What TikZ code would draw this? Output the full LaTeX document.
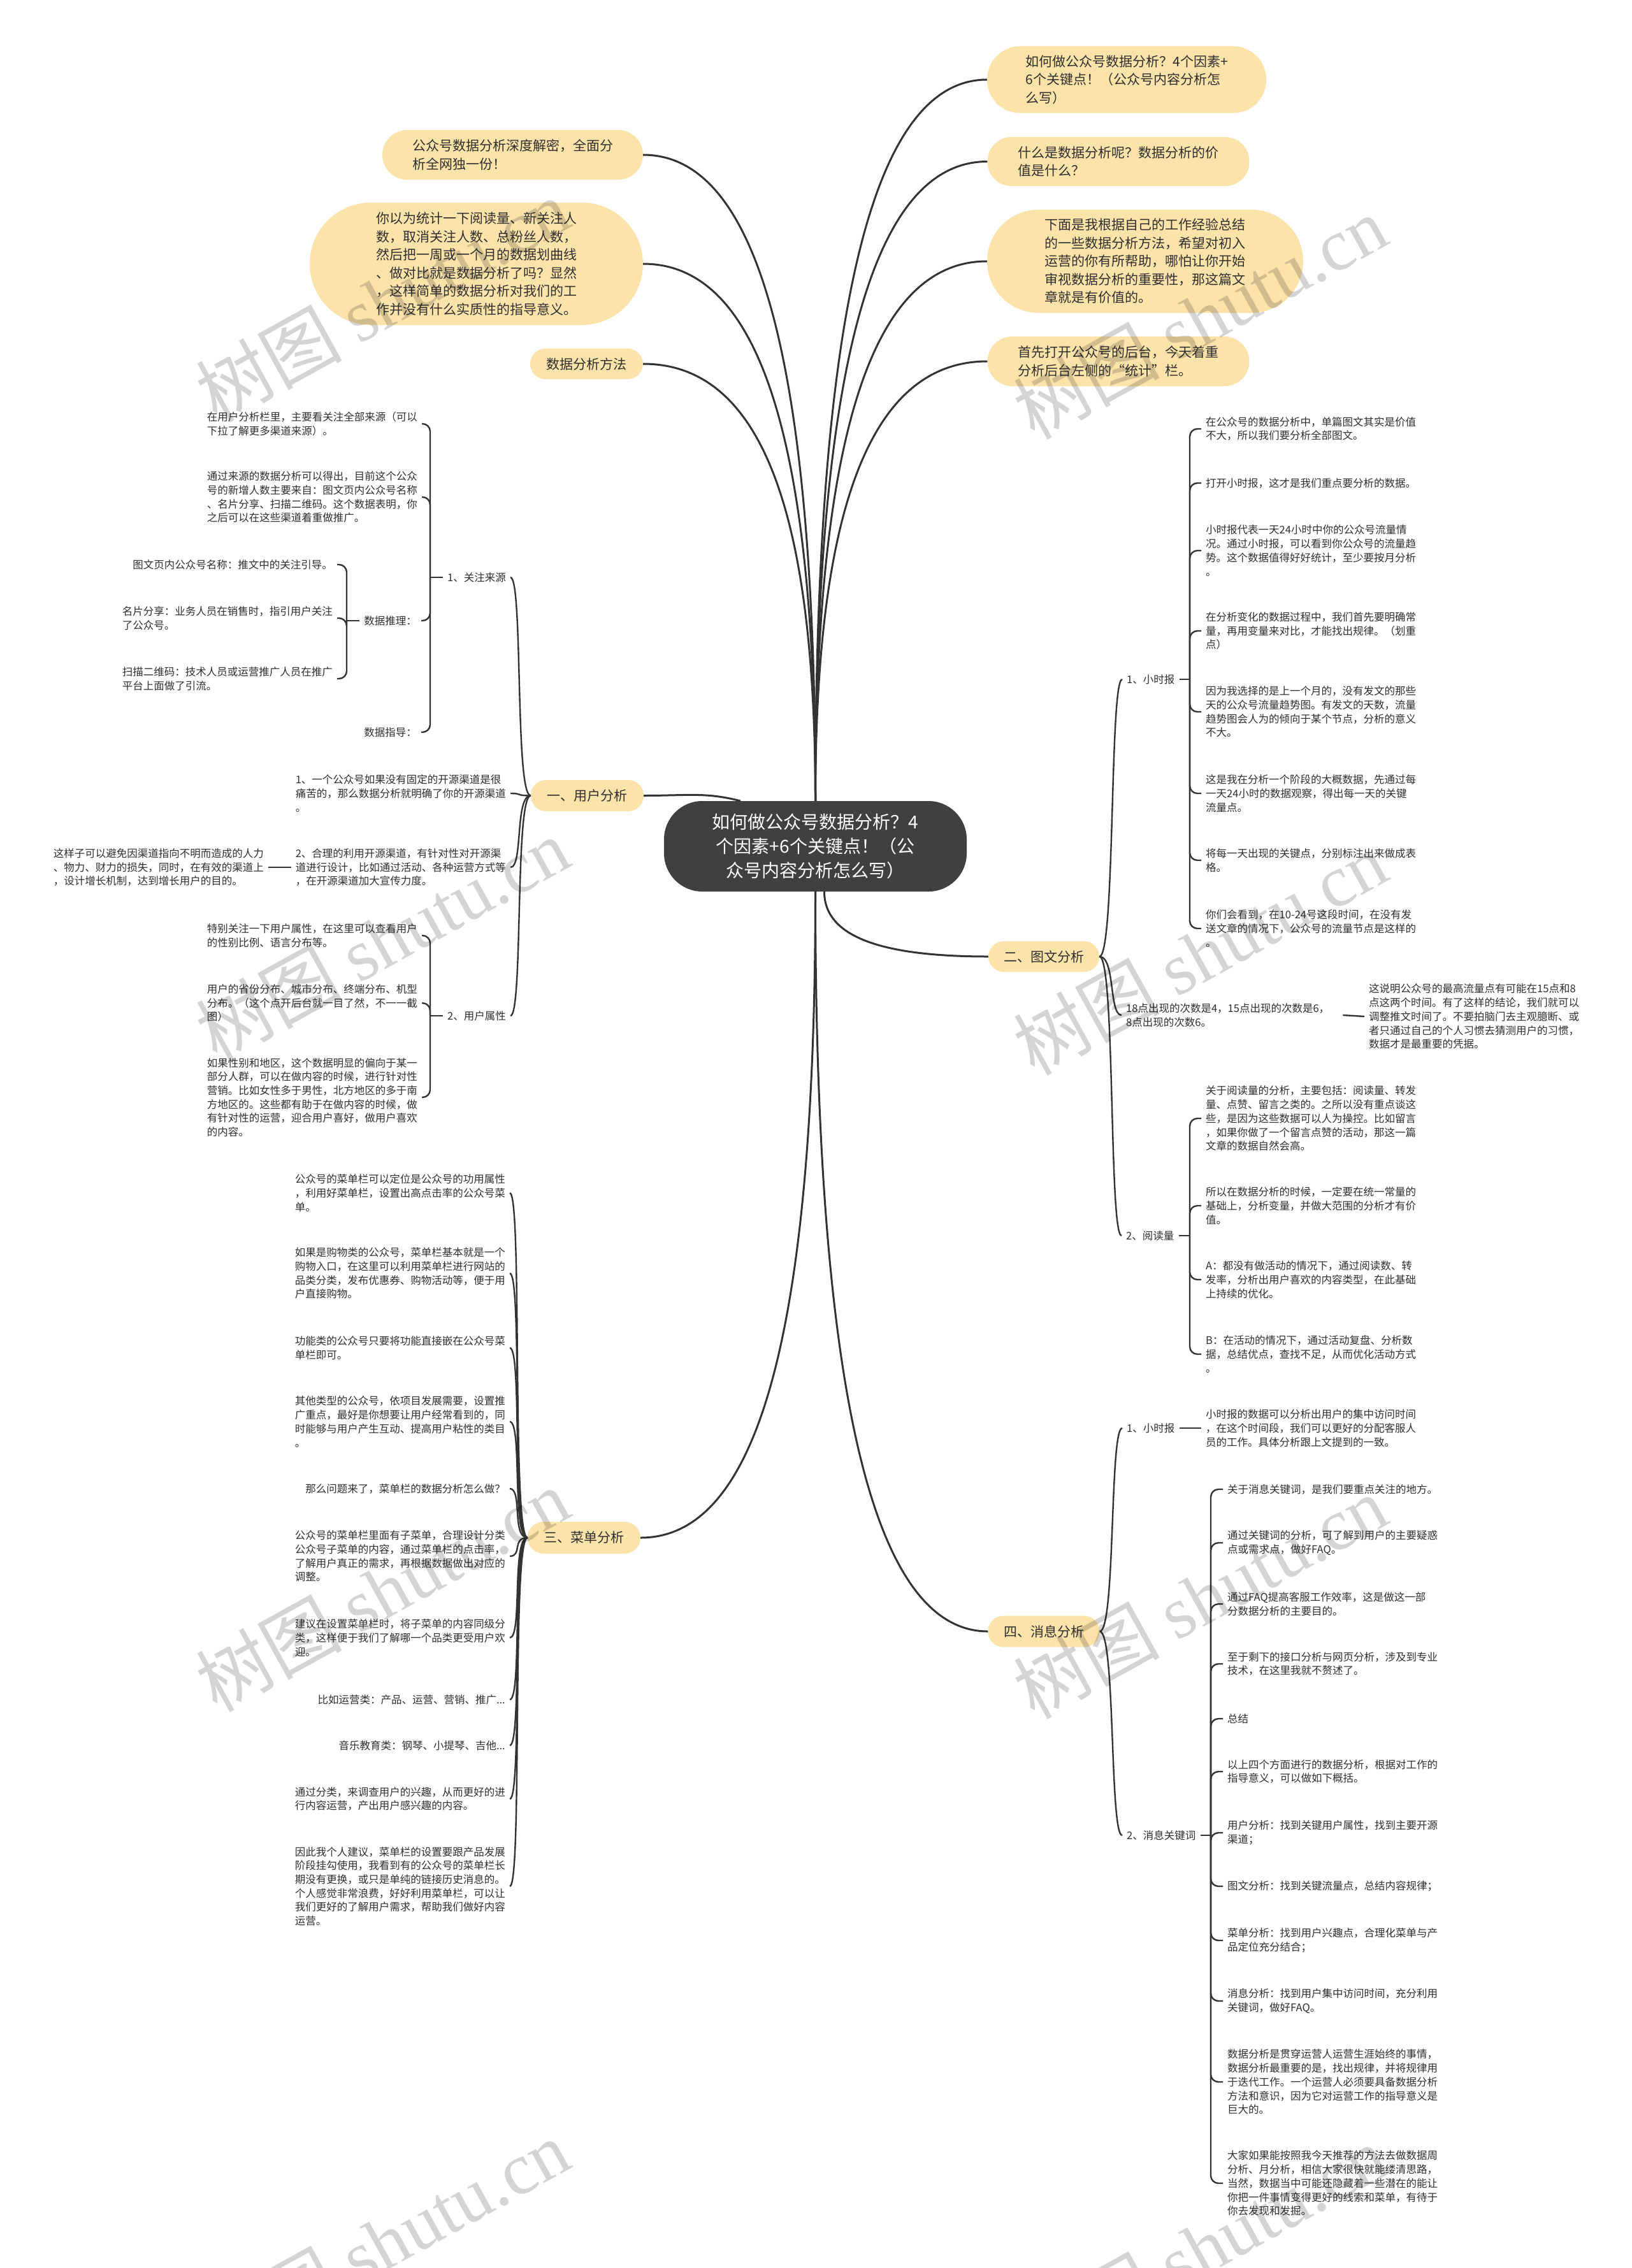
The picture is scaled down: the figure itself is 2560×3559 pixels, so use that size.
\documentclass[tikz,border=0pt]{standalone}
\usepackage{fontspec}
\setmainfont{Noto Sans CJK SC}
\newfontfamily\wmserif{Liberation Serif}
\definecolor{yel}{HTML}{FCE3AA}
\definecolor{dark}{HTML}{404040}
\definecolor{linec}{HTML}{333333}
\definecolor{txt}{HTML}{2F2F2F}
\newcommand\leaffont{\fontsize{16.5pt}{21.7pt}\selectfont}
\newcommand\topicfont{\fontsize{21pt}{28.5pt}\selectfont}
\newcommand\centerfont{\fontsize{28pt}{38pt}\selectfont}
\begin{document}
\begin{tikzpicture}[x=1pt,y=1pt,
 leaf/.style={font=\leaffont, align=left, inner xsep=7pt, inner ysep=0pt, text=txt},
 ll/.style={leaf, anchor=east},
 rl/.style={leaf, anchor=west},
 topic/.style={rectangle, fill=yel, text=txt, font=\topicfont, align=left, inner sep=0pt},
 mainlink/.style={draw=linec, line width=3pt},
 sublink/.style={draw=linec, line width=2.4pt},
 brk/.style={sublink, rounded corners=12pt},
 wm/.style={rotate=29, anchor=base west, text=black, opacity=0.17, font=\fontsize{115pt}{115pt}\selectfont, inner sep=0pt}
]
\fill[white] (0,0) rectangle (2560,-3559);
\useasboundingbox (0,0) rectangle (2560,-3559);

% ---------- centre ----------
\node[rectangle, rounded corners=60pt, fill=dark, text=white, font=\centerfont, align=center,
  minimum width=475pt, minimum height=142pt, inner sep=0pt] (c) at (1279.5,-1328)
  {如何做公众号数据分析？4\\个因素+6个关键点！（公\\众号内容分析怎么写）};

% ---------- top topics ----------
\node[topic, minimum width=438pt, minimum height=105pt, rounded corners=52pt] (R1) at (1768,-125)
  {如何做公众号数据分析？4个因素+\\6个关键点！（公众号内容分析怎\\么写）};
\node[topic, minimum width=411pt, minimum height=77pt, rounded corners=38pt] (R2) at (1755,-253.5)
  {什么是数据分析呢？数据分析的价\\值是什么？};
\node[topic, minimum width=496pt, minimum height=162pt, rounded corners=81pt] (R3) at (1797,-410)
  {下面是我根据自己的工作经验总结\\的一些数据分析方法，希望对初入\\运营的你有所帮助，哪怕让你开始\\审视数据分析的重要性，那这篇文\\章就是有价值的。};
\node[topic, minimum width=411pt, minimum height=78pt, rounded corners=39pt] (R4) at (1755,-567)
  {首先打开公众号的后台，今天着重\\分析后台左侧的“统计”栏。};
\node[topic, minimum width=409pt, minimum height=78pt, rounded corners=39pt] (L1) at (804.5,-243)
  {公众号数据分析深度解密，全面分\\析全网独一份！};
\node[topic, minimum width=523pt, minimum height=192pt, rounded corners=96pt] (L2) at (747.5,-414)
  {你以为统计一下阅读量、新关注人\\数，取消关注人数、总粉丝人数，\\然后把一周或一个月的数据划曲线\\、做对比就是数据分析了吗？显然\\，这样简单的数据分析对我们的工\\作并没有什么实质性的指导意义。};
\node[topic, minimum width=177pt, minimum height=48pt, rounded corners=24pt] (L3) at (920.5,-571) {数据分析方法};

% ---------- branches ----------
\node[topic, minimum width=177pt, minimum height=49pt, rounded corners=24pt] (B1) at (921.5,-1248.5) {一、用户分析};
\node[topic, minimum width=174pt, minimum height=48pt, rounded corners=24pt] (B2) at (1638,-1501) {二、图文分析};
\node[topic, minimum width=177pt, minimum height=50pt, rounded corners=25pt] (B3) at (916.5,-2413) {三、菜单分析};
\node[topic, minimum width=175pt, minimum height=49pt, rounded corners=24pt] (B4) at (1638,-2560) {四、消息分析};

% ---------- user analysis ----------
\node[ll] (gz) at (801,-906) {1、关注来源};
\node[ll] (a1) at (662,-665) {在用户分析栏里，主要看关注全部来源（可以\\下拉了解更多渠道来源）。};
\node[ll] (a2) at (662,-780) {通过来源的数据分析可以得出，目前这个公众\\号的新增人数主要来自：图文页内公众号名称\\、名片分享、扫描二维码。这个数据表明，你\\之后可以在这些渠道着重做推广。};
\node[ll] (tl) at (661,-974) {数据推理：};
\node[ll] (zd) at (661,-1149) {数据指导：};
\node[ll] (t1) at (529,-886) {图文页内公众号名称：推文中的关注引导。};
\node[ll] (t2) at (529,-970) {名片分享：业务人员在销售时，指引用户关注\\了公众号。};
\node[ll] (t3) at (529,-1065) {扫描二维码：技术人员或运营推广人员在推广\\平台上面做了引流。};
\node[ll] (i1) at (801,-1245) {1、一个公众号如果没有固定的开源渠道是很\\痛苦的，那么数据分析就明确了你的开源渠道\\。};
\node[ll] (i2) at (801,-1361) {2、合理的利用开源渠道，有针对性对开源渠\\道进行设计，比如通过活动、各种运营方式等\\，在开源渠道加大宣传力度。};
\node[ll] (i2c) at (421,-1361) {这样子可以避免因渠道指向不明而造成的人力\\、物力、财力的损失，同时，在有效的渠道上\\，设计增长机制，达到增长用户的目的。};
\node[ll] (yh) at (801,-1594) {2、用户属性};
\node[ll] (u1) at (662,-1468) {特别关注一下用户属性，在这里可以查看用户\\的性别比例、语言分布等。};
\node[ll] (u2) at (662,-1574) {用户的省份分布、城市分布、终端分布、机型\\分布。（这个点开后台就一目了然，不一一截\\图）};
\node[ll] (u3) at (662,-1722) {如果性别和地区，这个数据明显的偏向于某一\\部分人群，可以在做内容的时候，进行针对性\\营销。比如女性多于男性，北方地区的多于南\\方地区的。这些都有助于在做内容的时候，做\\有针对性的运营，迎合用户喜好，做用户喜欢\\的内容。};

% ---------- menu analysis ----------
\node[ll] (m1) at (800,-1872) {公众号的菜单栏可以定位是公众号的功用属性\\，利用好菜单栏，设置出高点击率的公众号菜\\单。};
\node[ll] (m2) at (800,-1998) {如果是购物类的公众号，菜单栏基本就是一个\\购物入口，在这里可以利用菜单栏进行网站的\\品类分类，发布优惠券、购物活动等，便于用\\户直接购物。};
\node[ll] (m3) at (800,-2115) {功能类的公众号只要将功能直接嵌在公众号菜\\单栏即可。};
\node[ll] (m4) at (800,-2231) {其他类型的公众号，依项目发展需要，设置推\\广重点，最好是你想要让用户经常看到的，同\\时能够与用户产生互动、提高用户粘性的类目\\。};
\node[ll] (m5) at (800,-2336) {那么问题来了，菜单栏的数据分析怎么做？};
\node[ll] (m6) at (800,-2442) {公众号的菜单栏里面有子菜单，合理设计分类\\公众号子菜单的内容，通过菜单栏的点击率，\\了解用户真正的需求，再根据数据做出对应的\\调整。};
\node[ll] (m7) at (800,-2570) {建议在设置菜单栏时，将子菜单的内容同级分\\类，这样便于我们了解哪一个品类更受用户欢\\迎。};
\node[ll] (m8) at (800,-2667) {比如运营类：产品、运营、营销、推广...};
\node[ll] (m9) at (800,-2739) {音乐教育类：钢琴、小提琴、吉他...};
\node[ll] (m10) at (800,-2823) {通过分类，来调查用户的兴趣，从而更好的进\\行内容运营，产出用户感兴趣的内容。};
\node[ll] (m11) at (800,-2960) {因此我个人建议，菜单栏的设置要跟产品发展\\阶段挂勾使用，我看到有的公众号的菜单栏长\\期没有更换，或只是单纯的链接历史消息的。\\个人感觉非常浪费，好好利用菜单栏，可以让\\我们更好的了解用户需求，帮助我们做好内容\\运营。};

% ---------- graphic analysis ----------
\node[rl] (xs1) at (1761,-1066) {1、小时报};
\node[rl] (h1) at (1885,-673) {在公众号的数据分析中，单篇图文其实是价值\\不大，所以我们要分析全部图文。};
\node[rl] (h2) at (1885,-758) {打开小时报，这才是我们重点要分析的数据。};
\node[rl] (h3) at (1885,-864) {小时报代表一天24小时中你的公众号流量情\\况。通过小时报，可以看到你公众号的流量趋\\势。这个数据值得好好统计，至少要按月分析\\。};
\node[rl] (h4) at (1885,-990) {在分析变化的数据过程中，我们首先要明确常\\量，再用变量来对比，才能找出规律。（划重\\点）};
\node[rl] (h5) at (1885,-1117) {因为我选择的是上一个月的，没有发文的那些\\天的公众号流量趋势图。有发文的天数，流量\\趋势图会人为的倾向于某个节点，分析的意义\\不大。};
\node[rl] (h6) at (1885,-1245) {这是我在分析一个阶段的大概数据，先通过每\\一天24小时的数据观察，得出每一天的关键\\流量点。};
\node[rl] (h7) at (1885,-1350) {将每一天出现的关键点，分别标注出来做成表\\格。};
\node[rl] (h8) at (1885,-1457) {你们会看到，在10-24号这段时间，在没有发\\送文章的情况下，公众号的流量节点是这样的\\。};
\node[rl] (p18) at (1760,-1593) {18点出现的次数是4，15点出现的次数是6，\\8点出现的次数6。};
\node[rl] (p18c) at (2141,-1595) {这说明公众号的最高流量点有可能在15点和8\\点这两个时间。有了这样的结论，我们就可以\\调整推文时间了。不要拍脑门去主观臆断、或\\者只通过自己的个人习惯去猜测用户的习惯，\\数据才是最重要的凭据。};
\node[rl] (yd) at (1760,-1939) {2、阅读量};
\node[rl] (r1) at (1885,-1755) {关于阅读量的分析，主要包括：阅读量、转发\\量、点赞、留言之类的。之所以没有重点谈这\\些，是因为这些数据可以人为操控。比如留言\\，如果你做了一个留言点赞的活动，那这一篇\\文章的数据自然会高。};
\node[rl] (r2) at (1885,-1892) {所以在数据分析的时候，一定要在统一常量的\\基础上，分析变量，并做大范围的分析才有价\\值。};
\node[rl] (r3) at (1885,-2008) {A：都没有做活动的情况下，通过阅读数、转\\发率，分析出用户喜欢的内容类型，在此基础\\上持续的优化。};
\node[rl] (r4) at (1885,-2125) {B：在活动的情况下，通过活动复盘、分析数\\据，总结优点，查找不足，从而优化活动方式\\。};

% ---------- message analysis ----------
\node[rl] (xs2) at (1761,-2241) {1、小时报};
\node[rl] (x2c) at (1885,-2241) {小时报的数据可以分析出用户的集中访问时间\\，在这个时间段，我们可以更好的分配客服人\\员的工作。具体分析跟上文提到的一致。};
\node[rl] (gj) at (1761,-2880) {2、消息关键词};
\node[rl] (k1) at (1919,-2337) {关于消息关键词，是我们要重点关注的地方。};
\node[rl] (k2) at (1919,-2421) {通过关键词的分析，可了解到用户的主要疑惑\\点或需求点，做好FAQ。};
\node[rl] (k3) at (1919,-2517) {通过FAQ提高客服工作效率，这是做这一部\\分数据分析的主要目的。};
\node[rl] (k4) at (1919,-2611) {至于剩下的接口分析与网页分析，涉及到专业\\技术，在这里我就不赘述了。};
\node[rl] (k5) at (1919,-2697) {总结};
\node[rl] (k6) at (1919,-2780) {以上四个方面进行的数据分析，根据对工作的\\指导意义，可以做如下概括。};
\node[rl] (k7) at (1919,-2876) {用户分析：找到关键用户属性，找到主要开源\\渠道；};
\node[rl] (k8) at (1919,-2960) {图文分析：找到关键流量点，总结内容规律；};
\node[rl] (k9) at (1919,-3045) {菜单分析：找到用户兴趣点，合理化菜单与产\\品定位充分结合；};
\node[rl] (k10) at (1919,-3140) {消息分析：找到用户集中访问时间，充分利用\\关键词，做好FAQ。};
\node[rl] (k11) at (1919,-3267) {数据分析是贯穿运营人运营生涯始终的事情，\\数据分析最重要的是，找出规律，并将规律用\\于迭代工作。一个运营人必须要具备数据分析\\方法和意识，因为它对运营工作的指导意义是\\巨大的。};
\node[rl] (k12) at (1919,-3426) {大家如果能按照我今天推荐的方法去做数据周\\分析、月分析，相信大家很快就能缕清思路，\\当然，数据当中可能还隐藏着一些潜在的能让\\你把一件事情变得更好的线索和菜单，有待于\\你去发现和发掘。};

% ---------- bracket points ----------
\coordinate (gzb) at (675,-906);
\coordinate (tlb) at (544,-974);
\coordinate (yhb) at (675,-1594);
\coordinate (xs1b) at (1867,-1066);
\coordinate (ydb) at (1867,-1939);
\coordinate (gjb) at (1900,-2880);

% ---------- main links ----------
\draw[mainlink] (c.north) .. controls ([yshift=790pt]c.north) and ([xshift=-175pt]R1.west) .. (R1.west);
\draw[mainlink] (c.north) .. controls ([yshift=700pt]c.north) and ([xshift=-175pt]R2.west) .. (R2.west);
\draw[mainlink] (c.north) .. controls ([yshift=590pt]c.north) and ([xshift=-175pt]R3.west) .. (R3.west);
\draw[mainlink] (c.north) .. controls ([yshift=480pt]c.north) and ([xshift=-175pt]R4.west) .. (R4.west);
\draw[mainlink] (c.north) .. controls ([yshift=710pt]c.north) and ([xshift=175pt]L1.east) .. (L1.east);
\draw[mainlink] (c.north) .. controls ([yshift=590pt]c.north) and ([xshift=175pt]L2.east) .. (L2.east);
\draw[mainlink] (c.north) .. controls ([yshift=480pt]c.north) and ([xshift=175pt]L3.east) .. (L3.east);
\draw[mainlink] (B1.east) .. controls ([xshift=70pt]B1.east) and ([xshift=65pt,yshift=14pt]c.north west) .. ([xshift=120pt]c.north west);
\draw[mainlink] ([xshift=14pt]c.south) .. controls ([xshift=14pt,yshift=-70pt]c.south) and ([xshift=-170pt]B2.west) .. (B2.west);
\draw[mainlink] (c.south) .. controls ([yshift=-710pt]c.south) and ([xshift=180pt]B3.east) .. (B3.east);
\draw[mainlink] (c.south) .. controls ([yshift=-810pt]c.south) and ([xshift=-175pt]B4.west) .. (B4.west);

% ---------- sub links ----------
\foreach \n in {gz,i1,i2,yh} \draw[sublink] (B1.west) .. controls ([xshift=-25pt]B1.west) and ([xshift=20pt]\n.east) .. (\n.east);
\draw[sublink] (i2.west) -- (i2c.east);
\draw[sublink] (gz.west) -- (gzb);
\foreach \n in {a1,a2,tl,zd} \draw[brk] (gzb) |- (\n.east);
\draw[sublink] (tl.west) -- (tlb);
\foreach \n in {t1,t2,t3} \draw[brk] (tlb) |- (\n.east);
\draw[sublink] (yh.west) -- (yhb);
\foreach \n in {u1,u2,u3} \draw[brk] (yhb) |- (\n.east);

\foreach \n in {m1,m2,m3,m4,m5,m6,m7,m8,m9,m10,m11} \draw[sublink] (B3.west) .. controls ([xshift=-25pt]B3.west) and ([xshift=20pt]\n.east) .. (\n.east);

\foreach \n in {xs1,p18,yd} \draw[sublink] (B2.east) .. controls ([xshift=25pt]B2.east) and ([xshift=-20pt]\n.west) .. (\n.west);
\draw[sublink] (xs1.east) -- (xs1b);
\foreach \n in {h1,h2,h3,h4,h5,h6,h7,h8} \draw[brk] (xs1b) |- (\n.west);
\draw[sublink] ([xshift=14pt]p18.east) -- (p18c.west);
\draw[sublink] (yd.east) -- (ydb);
\foreach \n in {r1,r2,r3,r4} \draw[brk] (ydb) |- (\n.west);

\foreach \n in {xs2,gj} \draw[sublink] (B4.east) .. controls ([xshift=25pt]B4.east) and ([xshift=-20pt]\n.west) .. (\n.west);
\draw[sublink] (xs2.east) -- (x2c.west);
\draw[sublink] (gj.east) -- (gjb);
\foreach \n in {k1,k2,k3,k4,k5,k6,k7,k8,k9,k10,k11,k12} \draw[brk] (gjb) |- (\n.west);

% ---------- watermarks ----------
\foreach \i/\x/\y in {1/340/665, 2/1623/692, 3/340/1668, 4/1623/1690, 5/340/2689, 6/1623/2700, 7/340/3711, 8/1623/3720}
  \node[wm] (wm\i) at (\x,-\y) {树图 {\wmserif shutu.cn}};
\end{tikzpicture}
\end{document}
